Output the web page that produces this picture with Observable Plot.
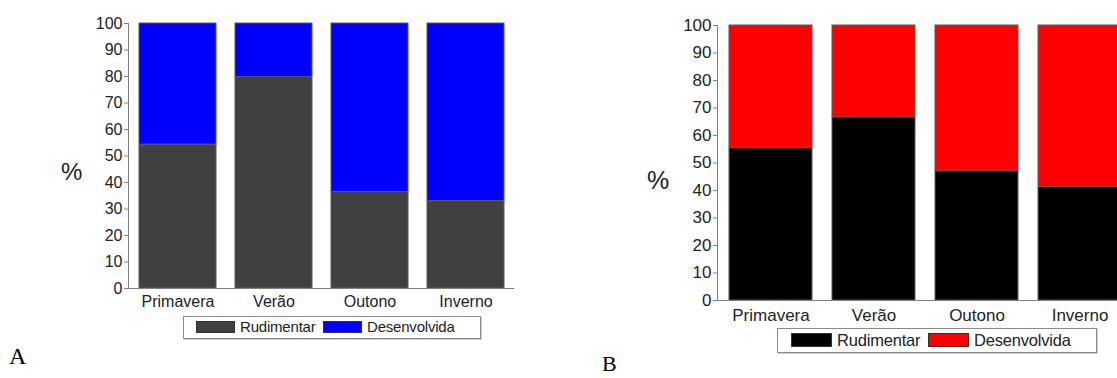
<!DOCTYPE html>
<html>
<head>
<meta charset="utf-8">
<script src="https://cdn.jsdelivr.net/npm/d3@7"></script>
<script src="https://cdn.jsdelivr.net/npm/@observablehq/plot@0.6"></script>
<style>
  html, body { margin: 0; padding: 0; background: #fff; overflow: hidden; }
  #root { position: relative; width: 1117px; height: 378px; overflow: hidden; font-family: "Liberation Sans", Arial, sans-serif; color: #222; }
  .abs { position: absolute; white-space: nowrap; }
  .legbox { position: absolute; border: 1px solid #8a8a8a; box-sizing: border-box; box-shadow: 1px 1px 0 #ccc; }
  .sw { position: absolute; border: 1px solid #333; box-sizing: border-box; }
  .panel { position: absolute; font-family: "Liberation Serif", "Times New Roman", serif; color: #000; }
</style>
</head>
<body>
<div id="root"></div>
<script>
const seasons = ["Primavera", "Verão", "Outono", "Inverno"];
const types = ["Rudimentar", "Desenvolvida"];
const rudA = [54.3, 79.8, 36.4, 33.0];
const desA = [45.7, 20.2, 63.6, 67.0];
const rudB = [55.4, 66.6, 47.0, 41.2];
const desB = [44.6, 33.4, 53.0, 58.8];
const colorsA = ["#404040", "#0000ff"];
const colorsB = ["#000000", "#ff0000"];
const yTicks = [0, 10, 20, 30, 40, 50, 60, 70, 80, 90, 100];

function chart(rud, des, colors, o) {
  const data = seasons.flatMap((s, i) => [
    {season: s, type: types[0], value: rud[i]},
    {season: s, type: types[1], value: des[i]}
  ]);
  const svg = Plot.plot({
    width: o.width, height: o.height,
    marginLeft: o.ml, marginRight: o.mr, marginTop: o.mt, marginBottom: o.mb,
    style: {fontFamily: '"Liberation Sans", Arial, sans-serif', fontSize: o.fs + "px", color: "#222", background: "transparent", overflow: "visible"},
    x: {domain: seasons, paddingInner: o.pi, paddingOuter: o.po, label: null},
    y: {domain: [0, 100], label: null},
    color: {domain: types, range: colors},
    marks: [
      Plot.barY(data, {x: "season", y: "value", fill: "type", stroke: "#5a5a5a", strokeWidth: 1}),
      Plot.ruleY([0], {stroke: "#808080"}),
      Plot.frame({anchor: "left", stroke: "#808080"}),
      Plot.axisY({ticks: yTicks, tickSize: 4, tickPadding: 2, stroke: "#808080", fontSize: o.fs, label: null}),
      Plot.axisX({tickSize: 0, tickPadding: o.xp, fontSize: o.fs, label: null})
    ]
  });
  svg.style.position = "absolute";
  svg.style.left = o.left + "px";
  svg.style.top = o.top + "px";
  return svg;
}

const root = document.getElementById("root");
root.appendChild(chart(rudA, desA, colorsA, {left: 0, top: 0, width: 534, height: 310, ml: 128, mr: 20, mt: 23, mb: 22, pi: 0.2, po: 0.098, fs: 16, xp: 7}));
root.appendChild(chart(rudB, desB, colorsB, {left: 590, top: 0, width: 562, height: 322, ml: 127, mr: 20, mt: 25, mb: 22, pi: 0.197, po: 0.106, fs: 17, xp: 8}));

function el(cls, css, text) {
  const d = document.createElement("div");
  d.className = cls;
  Object.assign(d.style, css);
  if (text != null) d.textContent = text;
  root.appendChild(d);
  return d;
}

// "%" axis titles
el("abs", {left: "61px", top: "157px", fontSize: "24px", lineHeight: "30px"}, "%");
el("abs", {left: "647px", top: "165px", fontSize: "25px", lineHeight: "30px"}, "%");

// Legend A
el("legbox", {left: "183px", top: "316px", width: "298px", height: "23px"});
el("sw", {left: "196px", top: "321px", width: "39px", height: "12px", background: colorsA[0]});
el("abs", {left: "240px", top: "317px", fontSize: "15px", lineHeight: "20px", letterSpacing: "-0.2px"}, types[0]);
el("sw", {left: "323px", top: "321px", width: "39px", height: "12px", background: colorsA[1]});
el("abs", {left: "367px", top: "317px", fontSize: "15px", lineHeight: "20px", letterSpacing: "-0.2px"}, types[1]);

// Legend B
el("legbox", {left: "777px", top: "328px", width: "320px", height: "25px"});
el("sw", {left: "791px", top: "333px", width: "41px", height: "14px", background: colorsB[0]});
el("abs", {left: "837px", top: "329px", fontSize: "16.5px", lineHeight: "22px", letterSpacing: "-0.2px"}, types[0]);
el("sw", {left: "928px", top: "333px", width: "41px", height: "14px", background: colorsB[1]});
el("abs", {left: "974px", top: "329px", fontSize: "16.5px", lineHeight: "22px", letterSpacing: "-0.2px"}, types[1]);

// Panel letters
el("panel", {left: "9px", top: "343px", fontSize: "24px", lineHeight: "26px"}, "A");
el("panel", {left: "602px", top: "353px", fontSize: "22px", lineHeight: "22px"}, "B");
</script>
</body>
</html>
